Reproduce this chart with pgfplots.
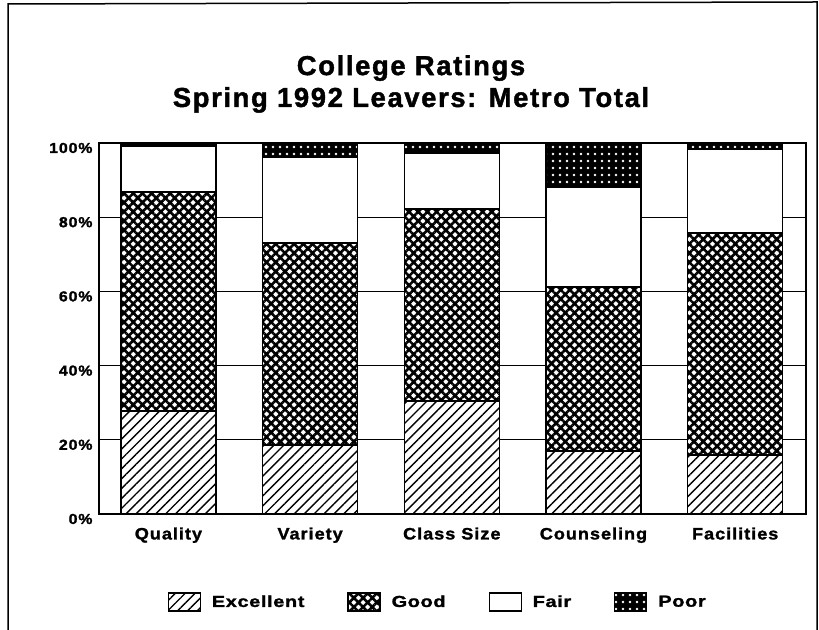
\documentclass[border=0pt]{standalone}
\usepackage{fontspec}
\setmainfont{Liberation Sans}
\newfontfamily\wide[LetterSpace=6, FakeBold=1.5]{Liberation Sans}
\newfontfamily\widel[LetterSpace=6, FakeBold=1.5, FakeStretch=1.1]{Liberation Sans}
\newfontfamily\widex[LetterSpace=4, FakeBold=1.5, FakeStretch=1.25]{Liberation Sans}
\usepackage{pgfplots}
\pgfplotsset{compat=1.18}
\usetikzlibrary{patterns.meta}

\begin{document}
\begin{tikzpicture}[x=1bp,y=1bp]
\useasboundingbox (0,0) rectangle (819,630);
% scanned page frame
\draw[line width=1.5bp] (8,0) -- (8,626) -- (817,628) -- (817,0);
\node[font=\wide\bfseries\fontsize{27.5}{32}\selectfont, align=center] at (411,546)
  {College Ratings\\Spring 1992 Leavers: Metro Total};
\begin{axis}[
    at={(99bp,116bp)}, anchor=south west,
    scale only axis, width=707bp, height=371bp,
    ybar stacked, bar width=95bp,
    xmin=-0.49, xmax=4.5, ymin=0, ymax=100,
    xtick={0,1,2,3,4},
    xticklabels={Quality,Variety,Class Size,Counseling,Facilities},
    ytick={0,20,40,60,80,100},
    yticklabels={0\%,20\%,40\%,60\%,80\%,100\%},
    major tick length=0pt,
    ymajorgrids,
    grid style={black, line width=1.2bp},
    axis line style={line width=1.5bp},
    xticklabel style={font=\widel\bfseries\fontsize{16.5}{18}\selectfont, yshift=-10bp},
    yticklabel style={font=\widel\bfseries\fontsize{14.5}{16}\selectfont, yshift=-5bp, xshift=-3bp},
    legend columns=4,
    legend style={draw=none, fill=none, at={(0.479,-0.237)}, anchor=center,
        font=\widex\bfseries\fontsize{16}{18}\selectfont,
        /tikz/every odd column/.append style={column sep=9bp},
        /tikz/every even column/.append style={column sep=41bp}},
    legend image code/.code={\draw[#1, line width=1.2bp] (0bp,-9bp) rectangle (32bp,9bp);},
]
\addplot[draw=black, line width=1.5bp, fill=white,
    postaction={pattern={Lines[angle=45,distance=7bp,line width=1.4bp]}}]
    coordinates {(0,27.8) (1,18.6) (2,30.5) (3,17.0) (4,15.9)};
\addplot[draw=black, line width=1.5bp, fill=white,
    postaction={pattern={Hatch[angle=45,distance=6.5bp,line width=2.6bp]}}]
    coordinates {(0,59.0) (1,54.4) (2,51.7) (3,44.2) (4,59.8)};
\addplot[draw=black, line width=1.5bp, fill=white]
    coordinates {(0,12.4) (1,23.2) (2,15.1) (3,27.0) (4,22.7)};
\addplot[draw=black, line width=1.5bp, fill=black,
    postaction={pattern={Dots[distance=7bp,radius=1.4bp]}, pattern color=white}]
    coordinates {(0,0.8) (1,3.8) (2,2.7) (3,11.8) (4,1.6)};
\legend{Excellent,Good,Fair,Poor}
\end{axis}
\end{tikzpicture}
\end{document}
